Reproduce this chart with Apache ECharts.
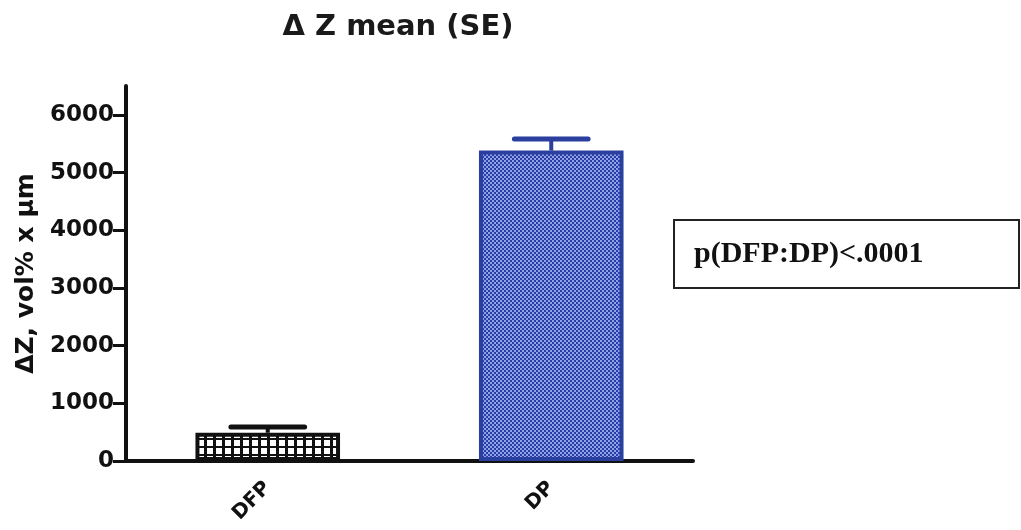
<!DOCTYPE html>
<html>
<head>
<meta charset="utf-8">
<script src="https://cdn.jsdelivr.net/npm/echarts@6/dist/echarts.min.js"></script>
<style>
html,body{margin:0;padding:0;background:#fff;}
#chart{width:1021px;height:530px;}
</style>
</head>
<body>
<div id="chart"></div>
<script>
// ---- data ----
const categories = ['DFP', 'DP'];
const means = [490, 5380];
const seUpper = [100, 200];
const yTicks = [0, 1000, 2000, 3000, 4000, 5000, 6000];
const titleText = '\u0394 Z mean (SE)';
const yAxisName = '\u0394Z, vol% x \u03bcm';
const annotation = 'p(DFP:DP)<.0001';

// ---- patterns ----
function gridPattern() {
  const c = document.createElement('canvas');
  c.width = 9; c.height = 8;
  const g = c.getContext('2d');
  g.fillStyle = '#ffffff'; g.fillRect(0, 0, 9, 8);
  g.fillStyle = '#111111';
  g.fillRect(6, 0, 3, 8);
  g.fillRect(0, 6, 9, 2);
  return c;
}
function dotPattern() {
  const c = document.createElement('canvas');
  c.width = 4; c.height = 4;
  const g = c.getContext('2d');
  g.fillStyle = '#2a3ea8'; g.fillRect(0, 0, 4, 4);
  g.fillStyle = '#8fa1e2';
  g.fillRect(0, 0, 2, 2);
  g.fillRect(2, 2, 2, 2);
  return c;
}
const barStyles = [
  { color: { image: gridPattern(), repeat: 'repeat' }, borderColor: '#111111', borderWidth: 4 },
  { color: { image: dotPattern(), repeat: 'repeat' }, borderColor: '#2b3f9e', borderWidth: 4 }
];
const capColors = ['#111111', '#2b3f9e'];

const chart = echarts.init(document.getElementById('chart'), null, { renderer: 'canvas' });
const option = {
  animation: false,
  backgroundColor: '#ffffff',
  title: {
    text: titleText,
    left: 393, top: 8,
    textAlign: 'center',
    textStyle: { fontFamily: 'DejaVu Sans', fontWeight: 'bold', fontSize: 29, color: '#1a1a1a' }
  },
  grid: { left: 126, right: 328, top: 86, bottom: 69, containLabel: false },
  xAxis: {
    type: 'category',
    data: categories,
    axisLine: { lineStyle: { color: '#111', width: 4 } },
    axisTick: { alignWithLabel: true, length: 10, lineStyle: { color: '#111', width: 3 } },
    axisLabel: {
      rotate: 45, margin: 24, color: '#111',
      fontFamily: 'DejaVu Sans', fontWeight: 'bold', fontSize: 20
    }
  },
  yAxis: {
    type: 'value',
    min: 0, max: 6500,
    name: yAxisName,
    nameLocation: 'middle',
    nameGap: 84,
    nameRotate: 90,
    nameTextStyle: { fontFamily: 'DejaVu Sans', fontWeight: 'bold', fontSize: 25, color: '#111' },
    splitLine: { show: false },
    axisLine: { show: true, lineStyle: { color: '#111', width: 4 } },
    axisTick: { show: true, customValues: yTicks, length: 13, lineStyle: { color: '#111', width: 3 } },
    axisLabel: {
      customValues: yTicks, margin: 12, color: '#111',
      formatter: function (v) { return String(v); },
      fontFamily: 'DejaVu Sans', fontWeight: 'bold', fontSize: 23
    }
  },
  series: [
    {
      type: 'bar',
      barWidth: '51%',
      data: means.map((v, i) => ({ value: v, itemStyle: barStyles[i] })),
      z: 2
    },
    {
      type: 'custom',
      z: 3,
      data: means.map((v, i) => [i, v, v + seUpper[i]]),
      renderItem: function (params, api) {
        const i = api.value(0);
        const base = api.coord([i, api.value(1)]);
        const top = api.coord([i, api.value(2)]);
        const half = api.size([1, 0])[0] * 0.13;
        const col = capColors[params.dataIndex];
        return {
          type: 'group',
          children: [
            { type: 'line', shape: { x1: base[0], y1: base[1], x2: top[0], y2: top[1] }, style: { stroke: col, lineWidth: 4 } },
            { type: 'line', shape: { x1: top[0] - half, y1: top[1], x2: top[0] + half, y2: top[1] }, style: { stroke: col, lineWidth: 5, lineCap: 'round' } }
          ]
        };
      }
    }
  ],
  graphic: [
    {
      type: 'group', left: 673, top: 219,
      children: [
        { type: 'rect', shape: { x: 0, y: 0, width: 345, height: 68 }, style: { fill: '#fff', stroke: '#222', lineWidth: 2 } },
        { type: 'text', x: 20, y: 34, style: { text: annotation, fontFamily: 'Liberation Serif', fontWeight: 'bold', fontSize: 30, fill: '#111', verticalAlign: 'middle' } }
      ]
    }
  ]
};
chart.setOption(option);
</script>
</body>
</html>
